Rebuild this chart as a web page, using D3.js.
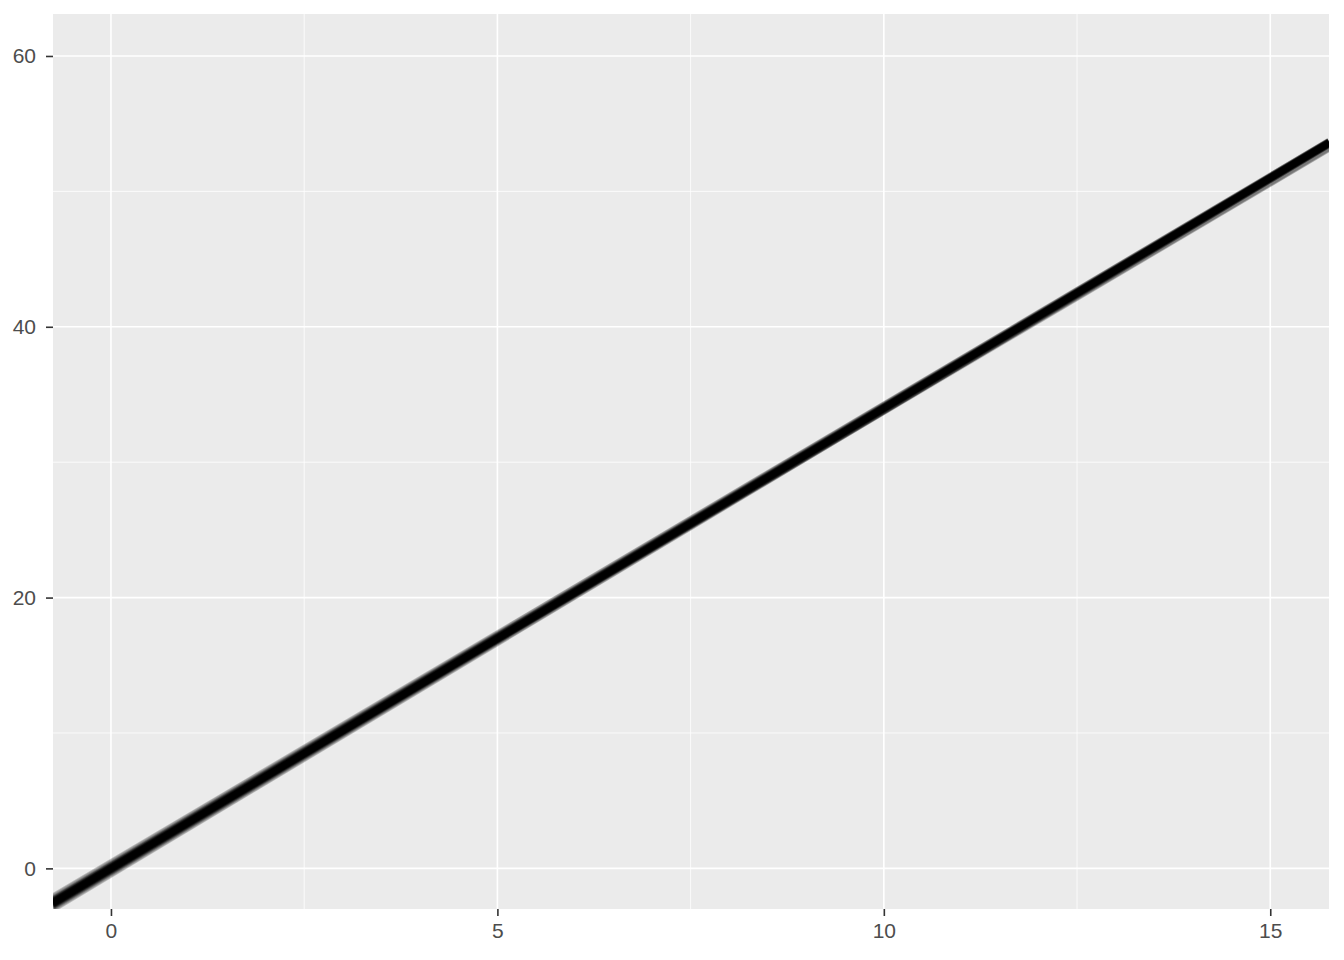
<!DOCTYPE html>
<html><head><meta charset="utf-8">
<script src="https://cdn.jsdelivr.net/npm/d3@7"></script>
<style>body{margin:0;background:#fff}svg{display:block}</style>
</head><body>
<svg id="c" width="1344" height="960"></svg>
<script>
const xTicks = [0, 5, 10, 15];
const yTicks = [0, 20, 40, 60];
const xMinor = [2.5, 7.5, 12.5];
const yMinor = [10, 30, 50];
// sampled regression lines (intercept, slope)
const intercepts = [-0.45, -0.38, -0.3, -0.25, -0.2, -0.18, -0.15, -0.12, -0.1, -0.08, -0.06, -0.04, -0.02, 0.0, 0.02, 0.04, 0.06, 0.08, 0.1, 0.12, 0.15, 0.18, 0.2, 0.25, 0.3, 0.38, 0.45, 0.05, -0.05, 0.0, 0.1, -0.1];
const slopes     = [3.420, 3.416, 3.412, 3.410, 3.408, 3.407, 3.406, 3.405, 3.404, 3.403, 3.402, 3.402, 3.401, 3.400, 3.399, 3.398, 3.398, 3.397, 3.396, 3.395, 3.394, 3.393, 3.392, 3.390, 3.388, 3.384, 3.380, 3.375, 3.405, 3.372, 3.368, 3.41];

const svg = d3.select("#c");
const L = 53, R = 1329, T = 14, B = 909;
const x = d3.scaleLinear().domain([-0.75, 15.76]).range([L, R]);
const y = d3.scaleLinear().domain([-3.0, 63.1]).range([B, T]);

svg.append("rect").attr("x", L).attr("y", T).attr("width", R - L).attr("height", B - T).attr("fill", "#EBEBEB");
const g = svg.append("g");
g.selectAll(".xm").data(xMinor).join("line").attr("x1", d => x(d)).attr("x2", d => x(d)).attr("y1", T).attr("y2", B).attr("stroke", "#fff").attr("stroke-width", 0.8);
g.selectAll(".ym").data(yMinor).join("line").attr("y1", d => y(d)).attr("y2", d => y(d)).attr("x1", L).attr("x2", R).attr("stroke", "#fff").attr("stroke-width", 0.8);
g.selectAll(".xM").data(xTicks).join("line").attr("x1", d => x(d)).attr("x2", d => x(d)).attr("y1", T).attr("y2", B).attr("stroke", "#fff").attr("stroke-width", 1.6);
g.selectAll(".yM").data(yTicks).join("line").attr("y1", d => y(d)).attr("y2", d => y(d)).attr("x1", L).attr("x2", R).attr("stroke", "#fff").attr("stroke-width", 1.6);

svg.append("clipPath").attr("id", "clp").append("rect").attr("x", L).attr("y", T).attr("width", R - L).attr("height", B - T);
const lines = intercepts.map((a, i) => ({a, b: slopes[i]}));
const x0 = x.domain()[0], x1 = x.domain()[1];
svg.append("g").attr("clip-path", "url(#clp)").selectAll("line").data(lines).join("line")
  .attr("x1", x(x0)).attr("x2", x(x1))
  .attr("y1", d => y(d.a + d.b * x0)).attr("y2", d => y(d.a + d.b * x1))
  .attr("stroke", "#000").attr("stroke-opacity", 0.2).attr("stroke-width", 6.5);

const xa = svg.append("g").attr("transform", `translate(0,${B})`).call(d3.axisBottom(x).tickValues(xTicks).tickSize(7).tickPadding(7).tickFormat(d3.format("d")));
const ya = svg.append("g").attr("transform", `translate(${L},0)`).call(d3.axisLeft(y).tickValues(yTicks).tickSize(7).tickPadding(10).tickFormat(d3.format("d")));
[xa, ya].forEach(a => {
  a.select(".domain").remove();
  a.selectAll(".tick line").attr("stroke", "#333").attr("stroke-width", 1.6);
  a.selectAll(".tick text").attr("fill", "#4D4D4D").attr("font-size", 21).attr("font-family", "Arial, 'Liberation Sans', sans-serif");
});
</script>
</body></html>
